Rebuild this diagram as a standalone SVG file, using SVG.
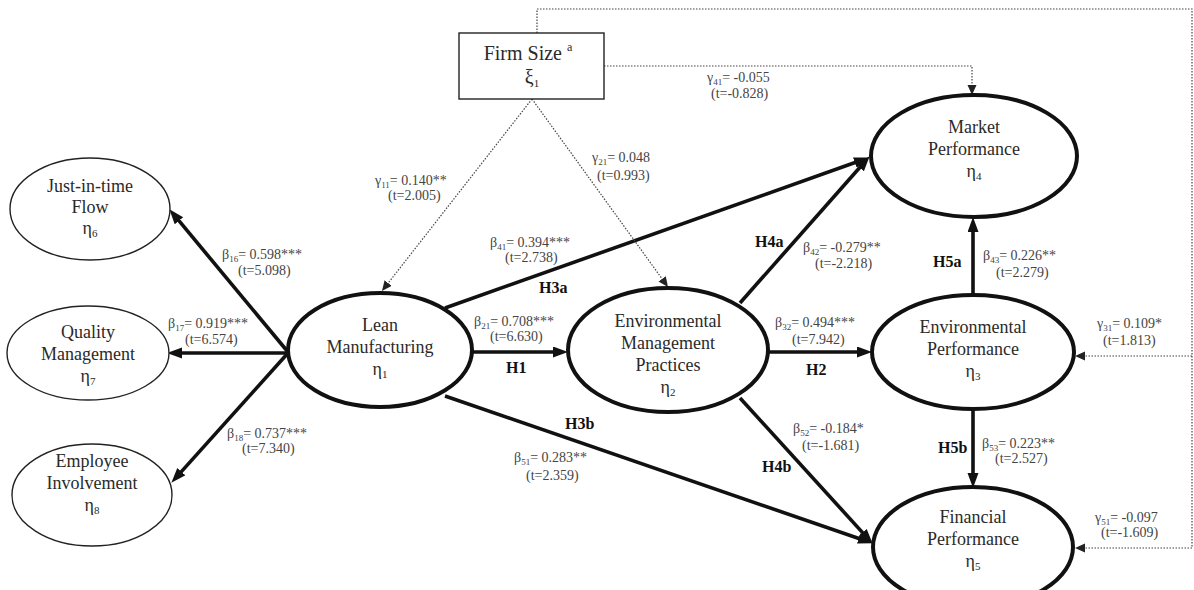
<svg xmlns="http://www.w3.org/2000/svg" width="1194" height="590" viewBox="0 0 1194 590">
<style>
.node{fill:#fff;stroke:#111;stroke-width:4}
.lnode{fill:#fff;stroke:#222;stroke-width:1.4}
.box{fill:#fff;stroke:#222;stroke-width:1.4}
.nt{font-family:"Liberation Serif",serif;font-size:18px;fill:#2a2a2a;text-anchor:middle}
.big{font-size:20px}
.lab{font-family:"Liberation Serif",serif;font-size:14px;fill:#444}
.h{font-family:"Liberation Serif",serif;font-size:16px;font-weight:bold;fill:#111}
.sub{font-size:9px}
.subn{font-size:11px}
.sup{font-size:12px}
.heavy{fill:none;stroke:#111;stroke-width:3.6;marker-end:url(#ah)}
.dot{fill:none;stroke:#444;stroke-width:1.2;stroke-dasharray:1.5 1.5}
.dota{marker-end:url(#ad)}
</style>
<defs>
<marker id="ah" markerUnits="userSpaceOnUse" markerWidth="16" markerHeight="12" refX="4" refY="5.5" orient="auto">
<path d="M0,0 L15,5.5 L0,11 z" fill="#111"/>
</marker>
<marker id="ad" markerUnits="userSpaceOnUse" markerWidth="12" markerHeight="10" refX="2" refY="4.5" orient="auto">
<path d="M0,0 L10,4.5 L0,9 z" fill="#222"/>
</marker>
</defs>

<g id="connectors">
<line class="heavy" x1="288" y1="352" x2="176.4" y2="217.7"/>
<line class="heavy" x1="288" y1="353" x2="178" y2="353"/>
<line class="heavy" x1="288" y1="353" x2="178.7" y2="474.6"/>
<line class="heavy" x1="472" y1="352" x2="557" y2="352"/>
<line class="heavy" x1="768" y1="352" x2="861" y2="352"/>
<line class="heavy" x1="445" y1="308" x2="858.6" y2="161.3"/>
<line class="heavy" x1="740" y1="303" x2="862.4" y2="164.5"/>
<line class="heavy" x1="445" y1="396" x2="862.5" y2="539.7"/>
<line class="heavy" x1="740" y1="398" x2="865.3" y2="535.6"/>
<line class="heavy" x1="973" y1="295" x2="973" y2="228"/>
<line class="heavy" x1="973" y1="410" x2="973" y2="477"/>
<line class="dot dota" x1="532" y1="99" x2="386.9" y2="284.7"/>
<line class="dot dota" x1="532" y1="99" x2="663.3" y2="280.5"/>
<path class="dot dota" d="M604,66 H972 V87"/>
<path class="dot dota" d="M537,33 V9 H1192 V548 H1083"/>
<path class="dot dota" d="M1192,356 H1083"/>
</g>

<g id="firm-size">
<rect class="box" x="459" y="33" width="145" height="66"/>
<text class="nt big" x="528" y="60">Firm Size <tspan class="sup" dy="-9">a</tspan></text>
<text class="nt big" x="532" y="84">ξ<tspan class="subn" dy="3">1</tspan></text>
</g>

<g id="jit">
<ellipse class="lnode" cx="90" cy="209" rx="80" ry="51"/>
<text class="nt" x="90" y="192">Just-in-time</text>
<text class="nt" x="90" y="213">Flow</text>
<text class="nt" x="90" y="234">η<tspan class="subn" dy="3">6</tspan></text>
</g>

<g id="quality">
<ellipse class="lnode" cx="88" cy="353" rx="81" ry="47"/>
<text class="nt" x="88" y="338">Quality</text>
<text class="nt" x="88" y="360">Management</text>
<text class="nt" x="88" y="382">η<tspan class="subn" dy="3">7</tspan></text>
</g>

<g id="employee">
<ellipse class="lnode" cx="92" cy="495" rx="80" ry="51"/>
<text class="nt" x="92" y="467">Employee</text>
<text class="nt" x="92" y="489">Involvement</text>
<text class="nt" x="92" y="511">η<tspan class="subn" dy="3">8</tspan></text>
</g>

<g id="lean">
<ellipse class="node" cx="380" cy="350" rx="92" ry="57"/>
<text class="nt" x="380" y="331">Lean</text>
<text class="nt" x="380" y="353">Manufacturing</text>
<text class="nt" x="380" y="375">η<tspan class="subn" dy="3">1</tspan></text>
</g>

<g id="emp">
<ellipse class="node" cx="668" cy="350" rx="100" ry="62"/>
<text class="nt" x="668" y="327">Environmental</text>
<text class="nt" x="668" y="349">Management</text>
<text class="nt" x="668" y="371">Practices</text>
<text class="nt" x="668" y="393">η<tspan class="subn" dy="3">2</tspan></text>
</g>

<g id="market">
<ellipse class="node" cx="974" cy="156" rx="103" ry="61"/>
<text class="nt" x="974" y="133">Market</text>
<text class="nt" x="974" y="155">Performance</text>
<text class="nt" x="974" y="177">η<tspan class="subn" dy="3">4</tspan></text>
</g>

<g id="envperf">
<ellipse class="node" cx="973" cy="352" rx="101" ry="57"/>
<text class="nt" x="973" y="333">Environmental</text>
<text class="nt" x="973" y="355">Performance</text>
<text class="nt" x="973" y="377">η<tspan class="subn" dy="3">3</tspan></text>
</g>

<g id="financial">
<ellipse class="node" cx="973" cy="547" rx="100" ry="60"/>
<text class="nt" x="973" y="523">Financial</text>
<text class="nt" x="973" y="545">Performance</text>
<text class="nt" x="973" y="567">η<tspan class="subn" dy="3">5</tspan></text>
</g>

<g id="labels">
<text class="lab" x="222" y="259">β<tspan class="sub" dy="3">16</tspan><tspan dy="-3">= 0.598***</tspan></text>
<text class="lab" x="238" y="275">(t=5.098)</text>
<text class="lab" x="168" y="328">β<tspan class="sub" dy="3">17</tspan><tspan dy="-3">= 0.919***</tspan></text>
<text class="lab" x="185" y="344">(t=6.574)</text>
<text class="lab" x="227" y="438">β<tspan class="sub" dy="3">18</tspan><tspan dy="-3">= 0.737***</tspan></text>
<text class="lab" x="242" y="453">(t=7.340)</text>
<text class="lab" x="375" y="185">γ<tspan class="sub" dy="3">11</tspan><tspan dy="-3">= 0.140**</tspan></text>
<text class="lab" x="388" y="200">(t=2.005)</text>
<text class="lab" x="592" y="162">γ<tspan class="sub" dy="3">21</tspan><tspan dy="-3">= 0.048</tspan></text>
<text class="lab" x="597" y="180">(t=0.993)</text>
<text class="lab" x="707" y="82">γ<tspan class="sub" dy="3">41</tspan><tspan dy="-3">= -0.055</tspan></text>
<text class="lab" x="711" y="98">(t=-0.828)</text>
<text class="lab" x="490" y="247">β<tspan class="sub" dy="3">41</tspan><tspan dy="-3">= 0.394***</tspan></text>
<text class="lab" x="505" y="262">(t=2.738)</text>
<text class="h" x="539" y="293">H3a</text>
<text class="lab" x="474" y="326">β<tspan class="sub" dy="3">21</tspan><tspan dy="-3">= 0.708***</tspan></text>
<text class="lab" x="490" y="341">(t=6.630)</text>
<text class="h" x="506" y="373">H1</text>
<text class="h" x="755" y="247">H4a</text>
<text class="lab" x="803" y="252">β<tspan class="sub" dy="3">42</tspan><tspan dy="-3">= -0.279**</tspan></text>
<text class="lab" x="815" y="268">(t=-2.218)</text>
<text class="h" x="933" y="267">H5a</text>
<text class="lab" x="983" y="260">β<tspan class="sub" dy="3">43</tspan><tspan dy="-3">= 0.226**</tspan></text>
<text class="lab" x="996" y="277">(t=2.279)</text>
<text class="lab" x="775" y="327">β<tspan class="sub" dy="3">32</tspan><tspan dy="-3">= 0.494***</tspan></text>
<text class="lab" x="792" y="344">(t=7.942)</text>
<text class="h" x="806" y="375">H2</text>
<text class="lab" x="1097" y="328">γ<tspan class="sub" dy="3">31</tspan><tspan dy="-3">= 0.109*</tspan></text>
<text class="lab" x="1103" y="345">(t=1.813)</text>
<text class="h" x="565" y="429">H3b</text>
<text class="lab" x="514" y="462">β<tspan class="sub" dy="3">51</tspan><tspan dy="-3">= 0.283**</tspan></text>
<text class="lab" x="526" y="480">(t=2.359)</text>
<text class="h" x="762" y="472">H4b</text>
<text class="lab" x="793" y="433">β<tspan class="sub" dy="3">52</tspan><tspan dy="-3">= -0.184*</tspan></text>
<text class="lab" x="802" y="450">(t=-1.681)</text>
<text class="h" x="938" y="453">H5b</text>
<text class="lab" x="982" y="448">β<tspan class="sub" dy="3">53</tspan><tspan dy="-3">= 0.223**</tspan></text>
<text class="lab" x="995" y="463">(t=2.527)</text>
<text class="lab" x="1095" y="522">γ<tspan class="sub" dy="3">51</tspan><tspan dy="-3">= -0.097</tspan></text>
<text class="lab" x="1101" y="537">(t=-1.609)</text>
</g>
</svg>
